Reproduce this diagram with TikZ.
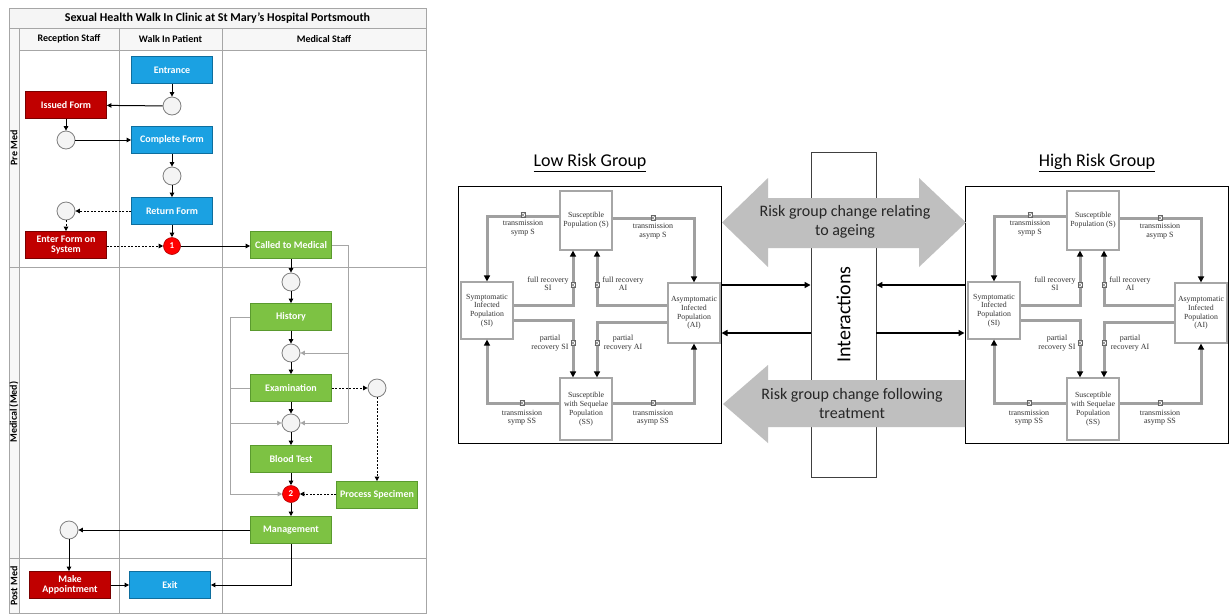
\documentclass[tikz,border=0pt]{standalone}
\usepackage{fontspec}
\setmainfont{Liberation Serif}
\newfontfamily\calib{Carlito}
\usetikzlibrary{arrows.meta,calc}
\definecolor{bluef}{HTML}{1BA1E2}
\definecolor{blued}{HTML}{0E6E9E}
\definecolor{greenf}{HTML}{7DC243}
\definecolor{greend}{HTML}{5A9A2E}
\definecolor{redf}{HTML}{C00000}
\definecolor{redd}{HTML}{7A0000}
\definecolor{numf}{HTML}{FF0000}
\definecolor{numd}{HTML}{B00000}
\definecolor{circf}{HTML}{F4F4F4}
\definecolor{circd}{HTML}{7F7F7F}
\definecolor{lanec}{HTML}{A6A6A6}
\definecolor{flowg}{HTML}{A0A0A0}
\definecolor{bigarrow}{HTML}{BFBFBF}
\tikzset{
  lane/.style={draw=lanec, line width=0.8pt},
  fbox/.style={rectangle, minimum width=81, minimum height=27, inner sep=1, text=white,
    font=\calib\bfseries\fontsize{10}{12.5}\selectfont, align=center, line width=0.8pt},
  bluebox/.style={fbox, fill=bluef, draw=blued},
  redbox/.style={fbox, fill=redf, draw=redd},
  greenbox/.style={fbox, fill=greenf, draw=greend},
  circ/.style={circle, minimum size=18, inner sep=0, fill=circf, draw=circd, line width=0.8pt},
  numc/.style={circle, minimum size=17, inner sep=0, fill=numf, draw=numd, line width=0.6pt,
    text=white, font=\calib\bfseries\fontsize{9}{10}\selectfont},
  flow/.style={line width=1pt, -{Triangle[length=4.5pt,width=4.5pt]}},
  dflow/.style={flow, dash pattern=on 2pt off 1.5pt},
  gline/.style={draw=lanec, line width=1pt},
  garrow/.style={gline, -{Triangle[length=4.5pt,width=4.5pt]}},
  hdr/.style={font=\calib\bfseries\fontsize{10}{12}\selectfont},
  pbox/.style={rectangle, draw=lanec, line width=1.2pt, fill=white, minimum width=52, inner sep=1,
    align=center, font=\fontsize{7.8}{8.8}\selectfont, text=black!80},
  gflow/.style={draw=flowg, line width=3pt, -{Triangle[length=6pt,width=6pt,color=black]}},
  lbl/.style={align=center, font=\fontsize{8}{8.5}\selectfont, text=black!80, inner sep=0},
  valve/.pic={\draw[black!60, line width=0.4pt, fill=white] (-2,-2.5) rectangle (2,2.5);
    \draw[black!60, line width=0.4pt] (-2,-2.5) -- (2,2.5) (2,-2.5) -- (-2,2.5);},
  big/.style={fill=bigarrow, draw=none},
  bigtxt/.style={align=center, font=\calib\fontsize{16}{19}\selectfont, text=black!85},
}
\newcommand\riskgroup[3]{%
\begin{scope}[shift={(#1,0)}]
  \node[draw=black, line width=1pt, minimum width=263, minimum height=257, inner sep=0] (#2box) at (589.5,314.5) {};
  \node[font=\calib\fontsize{18}{20}\selectfont] (#2title) at (590,163) {\underline{#3}};
  \node[pbox, minimum height=59] (#2S) at (586,220.5) {Susceptible\\Population (S)};
  \node[pbox, minimum height=57] (#2SI) at (487,310.5) {Symptomatic\\Infected\\Population\\(SI)};
  \node[pbox, minimum height=60] (#2AI) at (694,313) {Asymptomatic\\Infected\\Population\\(AI)};
  \node[pbox, minimum height=62] (#2SS) at (586,409) {Susceptible\\with Sequelae\\Population\\(SS)};
  \draw[gflow] ($(#2S.west)+(0,-4.5)$) -| (#2SI.north);
  \draw[gflow] ($(#2S.east)+(0,-2.5)$) -| (#2AI.north);
  \draw[gflow] ($(#2SI.east)+(0,-5.5)$) -| ($(#2S.south)+(-13,0)$);
  \draw[gflow] ($(#2AI.west)+(0,-8)$) -| ($(#2S.south)+(11,0)$);
  \draw[gflow] ($(#2SI.east)+(0,9.5)$) -| ($(#2SS.north)+(-13,0)$);
  \draw[gflow] ($(#2AI.west)+(0,9)$) -| ($(#2SS.north)+(11,0)$);
  \draw[gflow] ($(#2SS.west)+(0,-6)$) -| (#2SI.south);
  \draw[gflow] ($(#2SS.east)+(0,-6)$) -| (#2AI.south);
  \pic at (523,215) {valve};
  \pic at (653,218) {valve};
  \pic at (573,285) {valve};
  \pic at (597,285) {valve};
  \pic at (573,343) {valve};
  \pic at (597,343) {valve};
  \pic at (522,403) {valve};
  \pic at (653,403) {valve};
  \node[lbl] (#2l1) at (523,228) {transmission\\symp S};
  \node[lbl] (#2l2) at (653,231) {transmission\\asymp S};
  \node[lbl] (#2l3) at (548,283.5) {full recovery\\SI};
  \node[lbl] (#2l4) at (623,283.5) {full recovery\\AI};
  \node[lbl] (#2l5) at (550,343) {partial\\recovery SI};
  \node[lbl] (#2l6) at (623,343) {partial\\recovery AI};
  \node[lbl] (#2l7) at (522,417.5) {transmission\\symp SS};
  \node[lbl] (#2l8) at (653,417.5) {transmission\\asymp SS};
\end{scope}}
\begin{document}
\begin{tikzpicture}[x=1pt, y=-1pt]
\useasboundingbox[fill=white] (0,0) rectangle (1231,614);
% ---------------- swimlane ----------------
\fill[white] (9,8) rectangle (426,613);
\fill[black!4] (9,8) rectangle (426,28);
\fill[black!3] (19,28) rectangle (426,50);
\fill[black!3] (9,28) rectangle (19,613);
\draw[lane] (9,8) rectangle (426,613);
\draw[lane] (9,28) -- (426,28);
\draw[lane] (19,50) -- (426,50);
\draw[lane] (19,28) -- (19,613);
\draw[lane] (119,28) -- (119,613);
\draw[lane] (222,28) -- (222,613);
\draw[lane] (9,267) -- (426,267);
\draw[lane] (9,558) -- (426,558);
\node[hdr, font=\calib\bfseries\fontsize{12}{14}\selectfont] (title) at (217.5,18) {Sexual Health Walk In Clinic at St Mary’s Hospital Portsmouth};
\node[hdr] (h1) at (69,39) {Reception Staff};
\node[hdr] (h2) at (170.5,39) {Walk In Patient};
\node[hdr] (h3) at (324,39) {Medical Staff};
\node[hdr, rotate=90] (v1) at (14,148) {Pre Med};
\node[hdr, rotate=90] (v2) at (14,412) {Medical (Med)};
\node[hdr, rotate=90] (v3) at (14,586) {Post Med};

\node[bluebox] (entr) at (172,70) {Entrance};
\node[circ] (c1) at (172,106) {};
\node[redbox] (issued) at (66,105) {Issued Form};
\node[circ] (c2) at (66,140) {};
\node[bluebox] (compl) at (172,140) {Complete Form};
\node[circ] (c3) at (172,176) {};
\node[bluebox] (ret) at (172,211) {Return Form};
\node[circ] (c4) at (66,211) {};
\node[redbox] (enter) at (66,245) {Enter Form on\\[-2pt]System};
\node[numc] (n1) at (172,246) {1};
\node[greenbox] (called) at (291,245) {Called to Medical};
\node[circ] (c5) at (291,282) {};
\node[greenbox] (hist) at (291,317) {History};
\node[circ] (c6) at (291,353) {};
\node[greenbox] (exam) at (291,388) {Examination};
\node[circ] (c7) at (377,388) {};
\node[circ] (c8) at (291,423) {};
\node[greenbox] (blood) at (291,459) {Blood Test};
\node[numc] (n2) at (291,494) {2};
\node[greenbox] (proc) at (377,495) {Process Specimen};
\node[greenbox] (mgmt) at (291,530) {Management};
\node[circ] (c9) at (69,530) {};
\node[redbox] (make) at (70,585) {Make\\[-2pt]Appointment};
\node[bluebox] (exit) at (170,585) {Exit};

\coordinate (gl) at (230,0);
\coordinate (gr) at (348,0);
\draw[gline] (hist.west) -- (hist.west -| gl) -- (gl |- n2);
\draw[garrow] (gl |- n2) -- (n2.west);
\draw[gline] (exam.west) -- (exam.west -| gl);
\draw[garrow] (gl |- c8) -- (c8.west);
\draw[gline] (called.east) -- (called.east -| gr) -- (gr |- c8);
\draw[garrow] (gr |- c8) -- (c8.east);
\draw[garrow] (gr |- c6) -- (c6.east);

\draw[flow] (entr) -- (c1);
\draw[flow] (c1) -- (issued);
\draw[flow] (issued) -- (c2);
\draw[flow] (c2) -- (compl);
\draw[flow] (compl) -- (c3);
\draw[flow] (c3) -- (ret);
\draw[dflow] (ret) -- (c4);
\draw[dflow] (c4) -- (enter);
\draw[flow] (ret) -- (n1);
\draw[dflow] (enter.east |- n1) -- (n1);
\draw[flow] (n1) -- (called.west |- n1);
\draw[flow] (called) -- (c5);
\draw[flow] (c5) -- (hist);
\draw[flow] (hist) -- (c6);
\draw[flow] (c6) -- (exam);
\draw[flow] (exam) -- (c8);
\draw[flow] (c8) -- (blood);
\draw[flow] (blood) -- (n2);
\draw[flow] (n2) -- (mgmt);
\draw[dflow] (exam) -- (c7);
\draw[dflow] (c7) -- (proc);
\draw[dflow] (proc.west |- n2) -- (n2);
\draw[flow] (mgmt) -- (c9);
\draw[flow] (c9) -- (make.north -| c9);
\draw[flow] (make) -- (exit);
\draw[flow] (mgmt.south) |- (exit.east);

% ---------------- risk groups ----------------
\node[draw=black!75, line width=0.9pt, minimum width=65, minimum height=325, inner sep=0] (inter) at (843.5,314.5) {};
\riskgroup{0}{low}{Low Risk Group}
\riskgroup{507}{high}{High Risk Group}
\node[rotate=90, font=\calib\fontsize{20}{22}\selectfont] (intertxt) at (inter.center) {Interactions};

\fill[big] (722,222.5) -- (768,178) -- (768,198) -- (919,198) -- (919,178) -- (966,222.5)
  -- (919,267) -- (919,248) -- (768,248) -- (768,267) -- cycle;
\node[bigtxt] (age) at (845,222) {Risk group change relating\\to ageing};
\fill[big] (723,404) -- (768,365) -- (768,380) -- (965,380) -- (965,427) -- (768,427) -- (768,443) -- cycle;
\node[bigtxt] (treat) at (852,403) {Risk group change following\\treatment};

\coordinate (ya) at (0,285);
\coordinate (yb) at (0,333);
\tikzset{barrow/.style={line width=1.6pt, -{Triangle[length=6pt,width=6pt]}}}
\draw[barrow] (lowbox.east |- ya) -- (inter.west |- ya);
\draw[barrow] (highbox.west |- ya) -- (inter.east |- ya);
\draw[barrow] (inter.west |- yb) -- (lowbox.east |- yb);
\draw[barrow] (inter.east |- yb) -- (highbox.west |- yb);
\end{tikzpicture}
\end{document}
